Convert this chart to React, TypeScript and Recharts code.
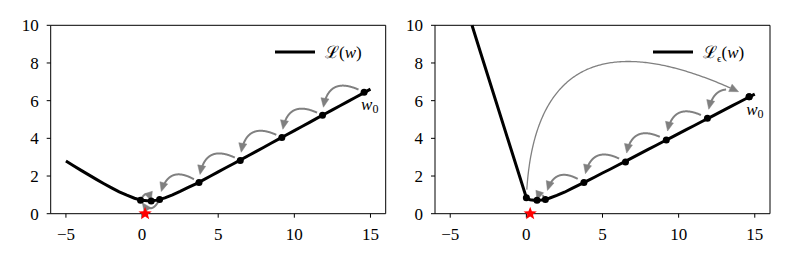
import React from 'react'
import { ComposedChart, Line, Scatter, XAxis, YAxis, ReferenceArea, Legend } from 'recharts'

// loss curves
const W_LEFT = [-5, -4.5, -4, -3.5, -3, -2.5, -2, -1.5, -1, -0.5, 0, 0.5, 1, 1.5, 2, 2.5, 3, 3.5, 4, 4.5, 5, 5.5, 6, 6.5, 7, 7.5, 8, 8.5, 9, 9.5, 10, 10.5, 11, 11.5, 12, 12.5, 13, 13.5, 14, 14.5, 15]
const LOSS_LEFT = [2.8, 2.55, 2.3, 2.06, 1.82, 1.59, 1.37, 1.16, 0.98, 0.82, 0.71, 0.67, 0.72, 0.84, 1.0, 1.18, 1.38, 1.57, 1.78, 2.0, 2.22, 2.44, 2.65, 2.87, 3.09, 3.31, 3.53, 3.75, 3.97, 4.19, 4.41, 4.63, 4.85, 5.07, 5.29, 5.51, 5.73, 5.95, 6.17, 6.39, 6.61]

// visible part of the smoothed loss (enters at the top edge)
const W_RIGHT = [-3.57, -3, -2, -1, 0, 0.25, 0.5, 0.75, 1, 1.25, 1.5, 2, 2.5, 3, 3.5, 4, 4.5, 5, 5.5, 6, 6.5, 7, 7.5, 8, 8.5, 9, 9.5, 10, 10.5, 11, 11.5, 12, 12.5, 13, 13.5, 14, 14.5, 15]
const LOSS_RIGHT = [10, 8.53, 5.97, 3.41, 0.85, 0.74, 0.72, 0.72, 0.73, 0.76, 0.82, 0.97, 1.14, 1.34, 1.54, 1.74, 1.95, 2.16, 2.36, 2.57, 2.78, 2.99, 3.2, 3.41, 3.62, 3.83, 4.04, 4.25, 4.46, 4.67, 4.88, 5.09, 5.3, 5.51, 5.72, 5.93, 6.14, 6.35]

// gradient descent iterates
const ITER_W_LEFT = [14.58, 11.85, 9.18, 6.45, 3.74, 1.15, -0.1, 0.6]
const ITER_LOSS_LEFT = [6.44, 5.22, 4.04, 2.83, 1.66, 0.76, 0.72, 0.67]
const ITER_W_RIGHT = [14.63, 11.89, 9.19, 6.51, 3.78, 1.25, 0.7]
const ITER_LOSS_RIGHT = [6.21, 5.06, 3.91, 2.74, 1.65, 0.76, 0.72]
const JUMP_W = [0, 14.63]
const JUMP_LOSS = [0.85, 6.21]

const MIN_W_LEFT = [0.2]
const MIN_W_RIGHT = [0.25]

const X_TICKS = [-5, 0, 5, 10, 15]
const Y_TICKS = [0, 2, 4, 6, 8, 10]

// arrow styling (bend of each arc, shrink at each end in px)
const BEND_LEFT = [0.78, 0.78, 0.78, 0.78, 0.78, -0.9, -1.2]
const SHRINK_A_LEFT = [6, 6, 6, 6, 6, 3, 2]
const SHRINK_B_LEFT = [8, 8, 8, 8, 8, 3, 0]
const BEND_RIGHT = [0.78, 0.78, 0.78, 0.78, 0.78, 1.2]
const SHRINK_A_RIGHT = [24, 7, 7, 7, 7, 3]
const SHRINK_B_RIGHT = [9, 9, 9, 9, 9, 0]

const SERIF = "'Liberation Serif', 'DejaVu Serif', serif"
const GREY = '#808080'

const toXY = (xs: number[], ys: number[]) => xs.map((x, i) => ({ x, y: ys[i] }))
const curveLeft = toXY(W_LEFT, LOSS_LEFT)
const curveRight = toXY(W_RIGHT, LOSS_RIGHT)
const iterLeft = ITER_W_LEFT.map((x, i) => ({ x, y: ITER_LOSS_LEFT[i], label: i === 0 ? 'w0' : '' }))
const iterRight = ITER_W_RIGHT.map((x, i) => ({ x, y: ITER_LOSS_RIGHT[i], label: i === 0 ? 'w0' : '' }))
const jump = toXY(JUMP_W, JUMP_LOSS)
const starLeft = MIN_W_LEFT.map((x) => ({ x, y: 0 }))
const starRight = MIN_W_RIGHT.map((x) => ({ x, y: 0 }))

type Pt = { x: number; y: number }

function arrow(A: Pt, B: Pt, bend: number, skew: number, sA: number, sB: number, color: string, width: number, head: number, key: number) {
  const dx = B.x - A.x
  const dy = B.y - A.y
  const C = {
    x: (A.x + B.x) / 2 + skew * dx - bend * dy,
    y: (A.y + B.y) / 2 + skew * dy + bend * dx,
  }
  const q = (t: number) => ({
    x: (1 - t) * (1 - t) * A.x + 2 * t * (1 - t) * C.x + t * t * B.x,
    y: (1 - t) * (1 - t) * A.y + 2 * t * (1 - t) * C.y + t * t * B.y,
  })
  const N = 200
  const pts = Array.from({ length: N + 1 }, (_, k) => q(k / N))
  const dist = (p: Pt, r: Pt) => Math.hypot(p.x - r.x, p.y - r.y)
  let i0 = 0
  while (i0 < N && dist(pts[i0], A) < sA) i0++
  let i1 = N
  while (i1 > 0 && dist(pts[i1], B) < sB) i1--
  const t1 = i1 / N
  const tip = pts[i1]
  let tx = 2 * (1 - t1) * (C.x - A.x) + 2 * t1 * (B.x - C.x)
  let ty = 2 * (1 - t1) * (C.y - A.y) + 2 * t1 * (B.y - C.y)
  const tl = Math.hypot(tx, ty) || 1
  tx /= tl
  ty /= tl
  const base = { x: tip.x - tx * head, y: tip.y - ty * head }
  const hw = head * 0.45
  const line = pts.slice(i0, i1 + 1).filter((p) => dist(p, tip) > head * 0.8)
  return (
    <g key={key}>
      {line.length > 1 && (
        <polyline points={line.map((p) => `${p.x},${p.y}`).join(' ')} fill="none" stroke={color} strokeWidth={width} />
      )}
      <polygon
        points={`${tip.x},${tip.y} ${base.x - ty * hw},${base.y + tx * hw} ${base.x + ty * hw},${base.y - tx * hw}`}
        fill={color}
        stroke={color}
        strokeWidth={0.5}
      />
    </g>
  )
}

const arcArrows = (bends: number[], skews: number[], sA: number[], sB: number[], width: number) => (p: any) => {
  const points: Pt[] = p.points || []
  const out = []
  for (let i = 0; i + 1 < points.length; i++) {
    out.push(arrow(points[i], points[i + 1], bends[i] ?? 0.78, skews[i] ?? 0, sA[i] ?? 6, sB[i] ?? 8, GREY, width, 9, i))
  }
  return <g>{out}</g>
}

const IterDot = (p: any) => (
  <g>
    <circle cx={p.cx} cy={p.cy} r={3.5} fill="#000" />
    {p.payload && p.payload.label ? (
      <text x={p.cx - 3} y={p.cy + 18} fontFamily={SERIF} fontSize={17} fontStyle="italic" fill="#000">
        w<tspan fontSize={12} fontStyle="normal" dy={3}>0</tspan>
      </text>
    ) : null}
  </g>
)

const Star = (p: any) => {
  const R = 7
  const r = 2.9
  const pts = Array.from({ length: 10 }, (_, k) => {
    const a = -Math.PI / 2 + (k * Math.PI) / 5
    const rr = k % 2 === 0 ? R : r
    return `${p.cx + rr * Math.cos(a)},${p.cy + rr * Math.sin(a)}`
  }).join(' ')
  return <polygon points={pts} fill="#ff0000" />
}

const Empty = () => <g />

const fmt = (v: number) => (v < 0 ? `\u2212${-v}` : `${v}`)

const XTick = (p: any) => (
  <text x={p.x} y={p.y} dy="0.71em" textAnchor="middle" fontFamily={SERIF} fontSize={17} fill="#000">
    {fmt(p.payload.value)}
  </text>
)
const YTick = (p: any) => (
  <text x={p.x} y={p.y} dy="0.36em" textAnchor="end" fontFamily={SERIF} fontSize={17} fill="#000">
    {fmt(p.payload.value)}
  </text>
)

const LegendBox = ({ children }: { children: React.ReactNode }) => (
  <div style={{ display: 'flex', alignItems: 'center', fontFamily: SERIF, fontSize: 17, color: '#000', whiteSpace: 'nowrap' }}>
    <svg width={40} height={4} style={{ display: 'block' }}>
      <line x1={0} y1={2} x2={40} y2={2} stroke="#000" strokeWidth={3} />
    </svg>
    <span style={{ marginLeft: 10 }}>{children}</span>
  </div>
)

function Panel({ curve, iters, bends, sA, sB, star, legendLeft, margin, yWidth, width, legend, withJump }: any) {
  return (
    <ComposedChart width={width} height={263} margin={margin}>
      <XAxis
        type="number"
        dataKey="x"
        domain={[-6, 16]}
        ticks={X_TICKS}
        axisLine={false}
        tickLine={{ stroke: '#000' }}
        tickSize={4}
        tickMargin={10}
        tick={XTick}
        height={30}
      />
      <YAxis
        type="number"
        dataKey="y"
        domain={[0, 10]}
        ticks={Y_TICKS}
        axisLine={false}
        tickLine={{ stroke: '#000' }}
        tickSize={4}
        tickMargin={8}
        tick={YTick}
        width={yWidth}
      />
      <ReferenceArea x1={-6} x2={16} y1={0} y2={10} fill="none" stroke="#000" strokeWidth={1} />
      <Line data={curve} dataKey="y" stroke="#000" strokeWidth={3} dot={false} isAnimationActive={false} />
      {withJump && (
        <Scatter
          data={jump}
          shape={IterDot}
          line={arcArrows([-0.75], [-0.12], [8], [11], 1.3)}
          isAnimationActive={false}
        />
      )}
      <Scatter data={iters} shape={Empty} line={arcArrows(bends, [], sA, sB, 2)} isAnimationActive={false} />
      <Scatter data={iters} shape={IterDot} isAnimationActive={false} />
      <Scatter data={star} shape={Star} isAnimationActive={false} />
      <Legend
        layout="horizontal"
        verticalAlign="middle"
        align="center"
        wrapperStyle={{ left: legendLeft, top: 40, width: 'auto' }}
        content={() => <LegendBox>{legend}</LegendBox>}
      />
    </ComposedChart>
  )
}

export default function App() {
  return (
    <div style={{ position: 'absolute', left: 0, top: 0, width: 789, height: 263, background: '#fff' }}>
      <div style={{ position: 'absolute', left: 0, top: 0 }}>
        <Panel
          curve={curveLeft}
          iters={iterLeft}
          bends={BEND_LEFT}
          sA={SHRINK_A_LEFT}
          sB={SHRINK_B_LEFT}
          star={starLeft}
          legendLeft={275}
          width={400}
          yWidth={40}
          margin={{ top: 25.3, right: 14.3, bottom: 19.3, left: 10.7 }}
          legend={<>ℒ(<i>w</i>)</>}
        />
      </div>
      <div style={{ position: 'absolute', left: 400, top: 0 }}>
        <Panel
          curve={curveRight}
          iters={iterRight}
          bends={BEND_RIGHT}
          sA={SHRINK_A_RIGHT}
          sB={SHRINK_B_RIGHT}
          star={starRight}
          legendLeft={253}
          width={389}
          yWidth={30}
          margin={{ top: 25.3, right: 19, bottom: 19.3, left: 5 }}
          legend={<>ℒ<sub style={{ fontSize: 11 }}>ϵ</sub>(<i>w</i>)</>}
          withJump
        />
      </div>
    </div>
  )
}
